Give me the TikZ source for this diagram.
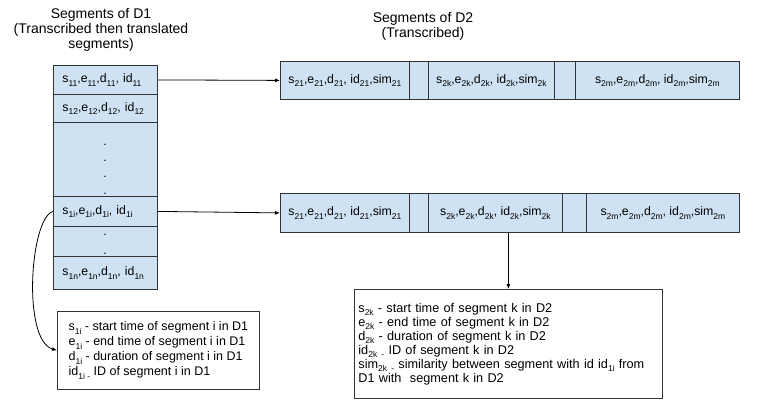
\documentclass[tikz,border=0pt]{standalone}
\usepackage{fontspec}
\setmainfont{Liberation Sans}
\usetikzlibrary{arrows.meta}
\definecolor{cellblue}{HTML}{CFE2F3}
\definecolor{edgegray}{HTML}{333333}
\newcommand{\sbx}[1]{\raisebox{-0.55ex}{\fontsize{8.5}{9}\selectfont #1}}
\begin{document}
\begin{tikzpicture}[x=1pt,y=-1pt,
  cell/.style={draw=edgegray, fill=cellblue, line width=0.8pt, inner ysep=0pt,
    anchor=north west, font=\fontsize{12.3}{14}\selectfont},
  cellL/.style={cell, minimum width=104pt, text width=86pt, align=left, inner xsep=9pt},
  cellR/.style={cell, inner xsep=0pt, align=center},
  title/.style={align=center, anchor=north, inner sep=0pt, font=\fontsize{14}{15}\selectfont},
  legend/.style={draw=edgegray, fill=white, line width=0.8pt, anchor=north west,
    align=left, inner ysep=0pt},
  arr/.style={draw=black, line width=0.8pt, -{Latex[length=5pt,width=4pt]}},
  dotmark/.style={font=\fontsize{12}{14}\selectfont, inner sep=0pt, anchor=base}
]
\useasboundingbox (0,0) rectangle (757,400);

% titles
\node[title] (ttl1) at (101,8) {Segments of D1\\(Transcribed then translated\\segments)};
\node[title] (ttl2) at (423,12) {Segments of D2\\(Transcribed)};

% left column (D1)
\node[cellL, minimum height=29pt] (c1) at (53,65) {s\sbx{11},e\sbx{11},d\sbx{11}, id\sbx{11}};
\node[cellL, minimum height=28pt] (c2) at (53,94) {s\sbx{12},e\sbx{12},d\sbx{12}, id\sbx{12}};
\node[cellL, minimum height=74pt] (c3) at (53,122) {};
\node[cellL, minimum height=30pt] (ci) at (53,196) {s\sbx{1i},e\sbx{1i},d\sbx{1i}, id\sbx{1i}};
\node[cellL, minimum height=30pt] (c5) at (53,226) {};
\node[cellL, minimum height=33pt] (cn) at (53,256) {s\sbx{1n},e\sbx{1n},d\sbx{1n}, id\sbx{1n}};
\foreach \yy/\nm in {145/d1,161/d2,177/d3,194/d4,235/d5,254/d6}
  \node[dotmark] (\nm) at (105,\yy) {.};

% top row (D2)
\node[cellR, minimum width=129pt, minimum height=38pt] (t1) at (280,61) {s\sbx{21},e\sbx{21},d\sbx{21}, id\sbx{21},sim\sbx{21}};
\node[cellR, minimum width=19pt, minimum height=38pt] (t2) at (409,61) {};
\node[cellR, minimum width=126pt, minimum height=38pt] (t3) at (428,61) {s\sbx{2k},e\sbx{2k},d\sbx{2k}, id\sbx{2k},sim\sbx{2k}};
\node[cellR, minimum width=21pt, minimum height=38pt] (t4) at (554,61) {};
\node[cellR, minimum width=164pt, minimum height=38pt] (t5) at (575,61) {s\sbx{2m},e\sbx{2m},d\sbx{2m}, id\sbx{2m},sim\sbx{2m}};

% second row (D2)
\node[cellR, minimum width=129pt, minimum height=39pt] (b1) at (280,193) {s\sbx{21},e\sbx{21},d\sbx{21}, id\sbx{21},sim\sbx{21}};
\node[cellR, minimum width=19pt, minimum height=39pt] (b2) at (409,193) {};
\node[cellR, minimum width=134pt, minimum height=39pt] (b3) at (428,193) {s\sbx{2k},e\sbx{2k},d\sbx{2k}, id\sbx{2k},sim\sbx{2k}};
\node[cellR, minimum width=24pt, minimum height=39pt] (b4) at (562,193) {};
\node[cellR, minimum width=153pt, minimum height=39pt] (b5) at (586,193) {s\sbx{2m},e\sbx{2m},d\sbx{2m}, id\sbx{2m},sim\sbx{2m}};

% legends
\node[legend, minimum width=202pt, minimum height=78pt, inner xsep=4pt,
      font=\fontsize{12.5}{15}\selectfont] (box1) at (57,311)
  {s\sbx{1i} - start time of segment i in D1\\
   e\sbx{1i} - end time of segment i in D1\\
   d\sbx{1i} - duration of segment i in D1\\
   id\sbx{1i -} ID of segment i in D1};
\node[legend, minimum width=308pt, minimum height=109pt, text width=300pt, inner xsep=4pt,
      font=\fontsize{12.7}{14}\selectfont] (box2) at (354,289)
  {s\sbx{2k} - start time of segment k in D2\\
   e\sbx{2k} - end time of segment k in D2\\
   d\sbx{2k} - duration of segment k in D2\\
   id\sbx{2k -} ID of segment k in D2\\
   sim\sbx{2k -} similarity between segment with id id\sbx{1i} from\\
   D1 with\ \ segment k in D2\\[2pt]};

% connectors
\draw[arr] (c1.east) -- (t1.west);
\draw[arr] (ci.east) -- (b1.west);
\draw[arr] (b3.south -| box2.north) -- (box2.north);
\draw[arr] (ci.west) .. controls (30,218) and (22,340) .. (box1.west);
\end{tikzpicture}
\end{document}
